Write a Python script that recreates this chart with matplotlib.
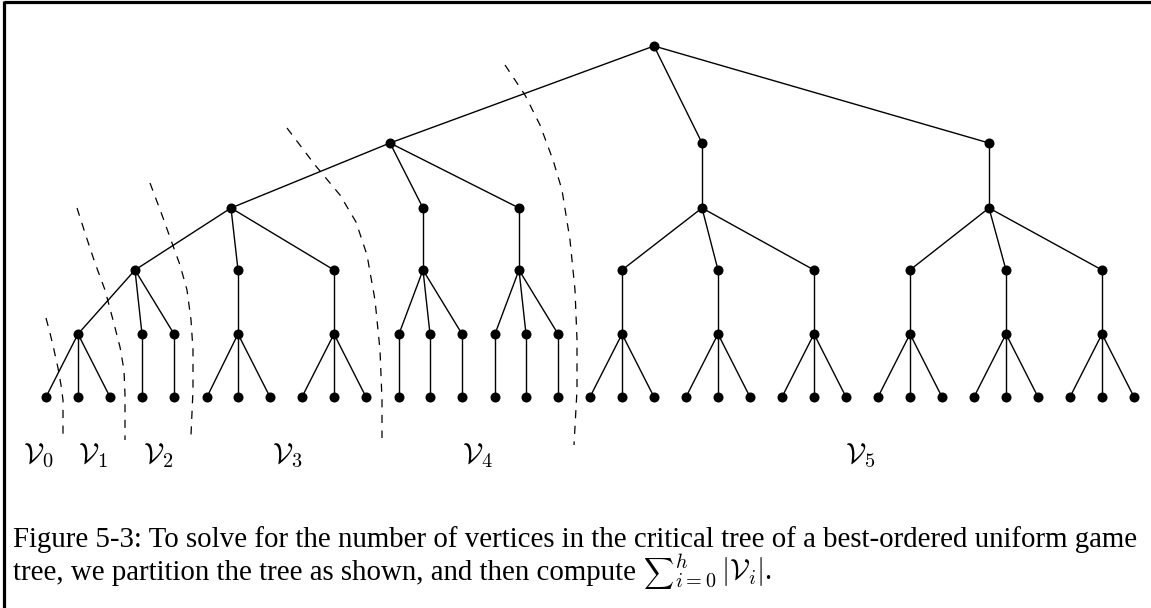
import matplotlib
matplotlib.use("Agg")
import matplotlib.pyplot as plt

plt.rcParams['mathtext.fontset'] = 'cm'

# ---- tree data (pixel-space layout of the reference) ----
level_y = [46, 143, 208, 270, 334, 397]

# internal nodes: (x, level, parent index)
node_x = [654, 390, 702, 989, 231, 423, 519, 702, 989,
          135, 238, 334, 423, 519, 622, 718, 814, 910, 1006, 1102,
          78, 142, 174, 238, 334, 399, 430, 462, 495, 526, 558,
          622, 718, 814, 910, 1006, 1102]
node_level = [0, 1, 1, 1, 2, 2, 2, 2, 2,
              3, 3, 3, 3, 3, 3, 3, 3, 3, 3, 3,
              4, 4, 4, 4, 4, 4, 4, 4, 4, 4, 4,
              4, 4, 4, 4, 4, 4]
node_parent = [None, 0, 0, 0, 1, 1, 1, 2, 3,
               4, 4, 4, 5, 6, 7, 7, 7, 8, 8, 8,
               9, 9, 9, 10, 11, 12, 12, 12, 13, 13, 13,
               14, 15, 16, 17, 18, 19]

# leaves: x and parent index (level 5)
leaf_x = [46, 78, 110, 142, 174, 207, 238, 270, 302, 334, 366,
          399, 430, 462, 495, 526, 558,
          590, 622, 654, 686, 718, 750, 782, 814, 846,
          878, 910, 942, 974, 1006, 1038, 1070, 1102, 1134]
leaf_parent = [20, 20, 20, 21, 22, 23, 23, 23, 24, 24, 24,
               25, 26, 27, 28, 29, 30,
               31, 31, 31, 32, 32, 32, 33, 33, 33,
               34, 34, 34, 35, 35, 35, 36, 36, 36]

# dashed partition curves (x, y points)
curves = [
    ([46, 50, 54, 58, 61, 63, 63], [318, 333, 350, 368, 385, 400, 440]),
    ([77, 86, 95, 105, 113, 120, 124, 125, 125], [208, 236, 263, 290, 320, 347, 370, 395, 440]),
    ([150, 162, 172, 180, 187, 191, 193, 193, 191], [183, 215, 243, 265, 290, 320, 350, 390, 435]),
    ([287, 315, 340, 356, 367, 375, 380, 382, 382], [128, 165, 195, 222, 255, 300, 350, 400, 438]),
    ([505, 525, 540, 553, 562, 570, 575, 577, 577, 574], [65, 95, 125, 160, 190, 240, 290, 340, 390, 445]),
]

labels = [r'$\mathcal{V}_0$', r'$\mathcal{V}_1$', r'$\mathcal{V}_2$',
          r'$\mathcal{V}_3$', r'$\mathcal{V}_4$', r'$\mathcal{V}_5$']
label_x = [23, 78, 143, 272, 462, 845]
label_y = 463

caption1 = "Figure 5-3: To solve for the number of vertices in the critical tree of a best-ordered uniform game"
caption2_text = "tree, we partition the tree as shown, and then compute "
caption2_sum = r"$\sum$"
caption2_rest = r"$_{i=0}^{h}\,|\mathcal{V}_i|$."

W, H = 1151, 608
fig = plt.figure(figsize=(W / 100, H / 100), dpi=100)
ax = fig.add_axes([0, 0, 1, 1])
ax.set_xlim(0, W)
ax.set_ylim(H, 0)
ax.axis('off')

# border (top and left)
ax.plot([4.5, W], [2, 2], color='black', lw=2.3, solid_capstyle='butt')
ax.plot([4.5, 4.5], [0.5, H], color='black', lw=2.3, solid_capstyle='butt')

# edges
for i, p in enumerate(node_parent):
    if p is None:
        continue
    ax.plot([node_x[p], node_x[i]], [level_y[node_level[p]], level_y[node_level[i]]],
            color='black', lw=1.0, zorder=2)
for x, p in zip(leaf_x, leaf_parent):
    ax.plot([node_x[p], x], [level_y[node_level[p]], level_y[5]],
            color='black', lw=1.0, zorder=2)

# nodes
ax.scatter(node_x, [level_y[l] for l in node_level], s=52, color='black', zorder=3, linewidths=0)
ax.scatter(leaf_x, [level_y[5]] * len(leaf_x), s=52, color='black', zorder=3, linewidths=0)

# dashed curves
for cx, cy in curves:
    ax.plot(cx, cy, color='black', lw=0.9, linestyle=(0, (6.5, 6)), zorder=1)

# labels
for t, x in zip(labels, label_x):
    ax.text(x, label_y, t, fontsize=21, ha='left', va='baseline')

# caption
fs = 20.8
ax.text(13, 547, caption1, fontsize=fs, family='Liberation Serif', ha='left', va='baseline')
t1 = ax.text(13, 580, caption2_text, fontsize=fs, family='Liberation Serif', ha='left', va='baseline')
fig.canvas.draw()
r = fig.canvas.get_renderer()
x_end = t1.get_window_extent(r).x1
t2 = ax.text(x_end, 580, caption2_sum, fontsize=15, ha='left', va='baseline')
x_end2 = t2.get_window_extent(r).x1
ax.text(x_end2, 580, caption2_rest, fontsize=fs, family='Liberation Serif', ha='left', va='baseline')

fig.savefig('out.png', dpi=100)
